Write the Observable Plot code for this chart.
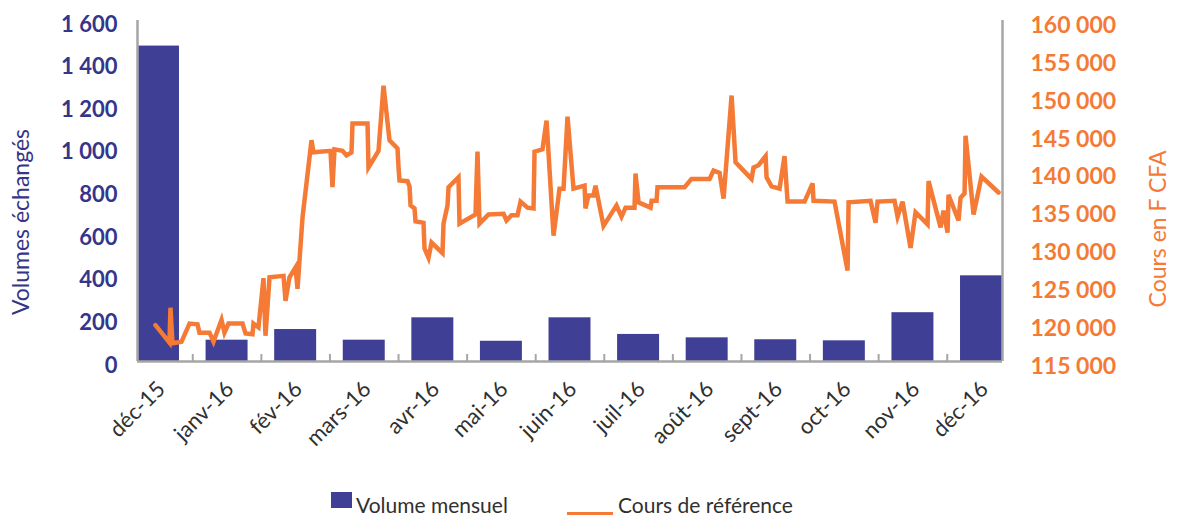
<!DOCTYPE html>
<html>
<head>
<meta charset="utf-8">
<script src="https://cdn.jsdelivr.net/npm/d3@7"></script>
<script src="https://cdn.jsdelivr.net/npm/@observablehq/plot@0.6"></script>
<style>
  body { margin: 0; background: #fff; font-family: Lato, "Open Sans", sans-serif; }
  #wrap { position: relative; width: 1177px; height: 518px; overflow: hidden; }
  #wrap svg { display: block; }
  #legend { position: absolute; left: 0; top: 480px; width: 1177px; height: 38px; }
  .sw { position: absolute; }
  .lt { position: absolute; font-size: 21px; line-height: 21px; color: #303030; white-space: nowrap; }
</style>
</head>
<body>
<div id="wrap"></div>
<script>
// ---- data ----
const months = ["déc-15","janv-16","fév-16","mars-16","avr-16","mai-16","juin-16","juil-16","août-16","sept-16","oct-16","nov-16","déc-16"];
const volumes = [1480, 100, 150, 100, 205, 95, 205, 127, 111, 102, 97, 229, 402];

// daily reference price: position in months from déc-15, value in F CFA
const coursPos = [-0.044,0.160,0.175,0.204,0.335,0.452,0.569,0.598,0.744,0.802,0.919,0.962,1.021,1.225,1.269,1.371,1.385,1.458,1.531,1.560,1.619,1.823,1.852,1.910,1.998,2.027,2.100,2.231,2.260,2.508,2.537,2.566,2.683,2.741,2.814,2.829,3.048,3.062,3.208,3.281,3.368,3.485,3.500,3.514,3.631,3.660,3.675,3.733,3.748,3.864,3.879,3.937,3.981,4.141,4.156,4.214,4.229,4.374,4.389,4.622,4.651,4.681,4.812,5.031,5.074,5.147,5.235,5.279,5.381,5.468,5.483,5.599,5.658,5.760,5.847,5.906,5.964,6.051,6.212,6.226,6.270,6.343,6.372,6.489,6.678,6.751,6.810,6.941,6.955,7.000,7.175,7.190,7.262,7.276,7.670,7.772,8.035,8.093,8.181,8.239,8.356,8.414,8.647,8.676,8.749,8.852,8.866,8.939,9.055,9.128,9.172,9.420,9.537,9.551,9.857,10.047,10.062,10.382,10.455,10.484,10.732,10.776,10.849,10.965,11.038,11.213,11.228,11.403,11.446,11.505,11.519,11.665,11.694,11.753,11.767,11.884,12.000,12.248];
const coursVal = [119800,117500,122100,117400,117600,120000,119900,118800,118800,117600,120500,118800,120000,120000,118700,118600,120000,119500,126000,118400,126100,126300,123000,126100,127400,124600,134000,144200,142600,142800,138000,143000,142800,142200,142600,146400,146400,140600,142800,151400,144200,143100,140600,138900,138800,138100,135600,135200,133500,133300,129900,128700,130700,129300,133200,135600,138000,139300,133200,134400,142700,133200,134400,134500,133600,134300,134300,136100,135300,135200,142700,143000,146800,131600,137800,137800,147300,137800,138200,135200,136900,136900,138200,132900,135600,134100,135300,135300,139800,136000,135300,136200,136200,138000,138000,139100,139100,140200,139900,136500,150100,141300,139100,140600,140900,142100,139300,138100,137800,142100,136100,136100,138500,136200,136100,127000,136000,136200,133300,136100,136200,134100,136100,130000,134700,133100,138800,132700,134900,132000,137000,133600,136600,137200,144800,134400,139400,137300];

const volTicks = [0, 200, 400, 600, 800, 1000, 1200, 1400, 1600];
const coursTicks = [115000, 120000, 125000, 130000, 135000, 140000, 145000, 150000, 155000, 160000];

// ---- styling ----
const BLUE = "#3F3F95", BLUE_TXT = "#35358A", ORANGE = "#F47A35", GRAY = "#A6A6A6";
const cMin = 115000, cMax = 160000, vMax = 1600;
const toV = p => (p - cMin) / (cMax - cMin) * vMax;
const fromV = v => Math.round(v * (cMax - cMin) / vMax + cMin);
const fmt = d => d3.format(",")(d).replace(/,/g, " ");

const bars = months.map((m, i) => ({i, m, v: volumes[i]}));
const line = coursPos.map((x, k) => ({x, p: coursVal[k]}));
const half = 0.306;
const sepTicks = d3.range(12).map(i => i + 0.5);

const chart = Plot.plot({
  width: 1177, height: 480,
  marginTop: 20, marginBottom: 119, marginLeft: 137, marginRight: 175,
  x: {domain: [-half, months.length - 1 + half], axis: null},
  y: {domain: [0, vMax], axis: null},
  style: {fontFamily: "Lato, 'Open Sans', sans-serif", background: "white"},
  marks: [
    Plot.rectY(bars, {x1: d => d.i - half, x2: d => d.i + half, y: "v", fill: BLUE}),
    Plot.tickX(sepTicks, {x: d => d, stroke: GRAY, strokeWidth: 2, insetTop: 334}),
    Plot.line(line, {x: "x", y: d => toV(d.p), stroke: ORANGE, strokeWidth: 4.5, strokeLinejoin: "miter", strokeMiterlimit: 4}),
    Plot.ruleX([-half, months.length - 1 + half], {stroke: GRAY, strokeWidth: 2.5}),
    Plot.ruleY([0], {stroke: GRAY, strokeWidth: 2.5}),
    Plot.axisY(volTicks, {anchor: "left", label: null, tickSize: 0, tickPadding: 20, tickFormat: fmt, color: BLUE_TXT, fontSize: 22, fontWeight: "bold", dy: 4}),
    Plot.axisY(coursTicks.map(toV), {anchor: "right", label: null, tickSize: 0, tickPadding: 28, tickFormat: v => fmt(fromV(v)), color: ORANGE, fontSize: 23, fontWeight: "bold", dy: 5}),
    Plot.axisX(d3.range(months.length), {anchor: "bottom", label: null, tickSize: 0, tickPadding: 24, tickRotate: -45, tickFormat: i => months[i], fontSize: 22, color: "#303030", dx: 3}),
    Plot.text(["Volumes échangés"], {frameAnchor: "left", textAnchor: "middle", rotate: -90, dx: -116, dy: 31, fill: BLUE_TXT, fontSize: 23}),
    Plot.text(["Cours en F CFA"], {frameAnchor: "right", textAnchor: "middle", rotate: -90, dx: 156, dy: 38, fill: ORANGE, fontSize: 23})
  ]
});

const wrap = document.getElementById("wrap");
wrap.append(chart);

const legend = document.createElement("div");
legend.id = "legend";
legend.innerHTML = `
  <div class="sw" style="left:331px;top:12px;width:21px;height:16px;background:${BLUE}"></div>
  <div class="lt" style="left:356px;top:14px">Volume mensuel</div>
  <div class="sw" style="left:567px;top:32px;width:46px;height:3px;background:${ORANGE}"></div>
  <div class="lt" style="left:618px;top:14px">Cours de référence</div>`;
wrap.append(legend);
</script>
</body>
</html>
